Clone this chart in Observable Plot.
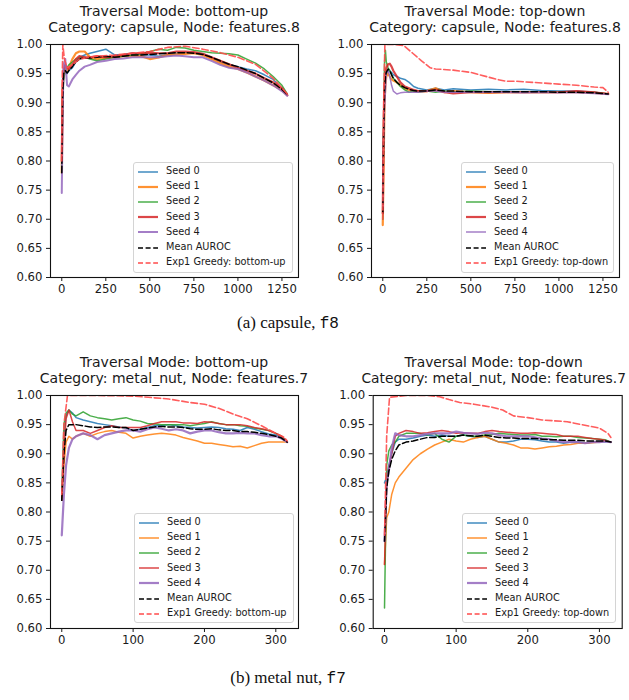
<!DOCTYPE html>
<html><head><meta charset="utf-8">
<script src="https://cdn.jsdelivr.net/npm/d3@7"></script>
<script src="https://cdn.jsdelivr.net/npm/@observablehq/plot@0.6"></script>
<style>
body{margin:0;background:#fff;}
#fig{position:relative;width:629px;height:700px;overflow:hidden;background:#fff;font-family:"DejaVu Sans",sans-serif;color:#1a1a1a;}
.ttl{position:absolute;white-space:nowrap;font-size:14px;line-height:15.5px;transform:translateX(-50%);text-align:center;color:#1a1a1a;}
.panel{position:absolute;}
.leg{position:absolute;border:1px solid #d4d4d4;border-radius:3px;background:rgba(255,255,255,0.85);box-sizing:border-box;}
.leg .lt{position:absolute;font-size:9.75px;line-height:12px;white-space:nowrap;color:#1a1a1a;}
.leg svg{position:absolute;}
.cap{position:absolute;font-family:"Liberation Serif","Times New Roman",serif;font-size:17px;line-height:20px;white-space:nowrap;transform:translateX(-50%);color:#111;}
.cap code{font-family:"Liberation Mono","DejaVu Sans Mono",monospace;font-size:16px;}
</style></head><body><div id="fig"></div><script>
// ---------- tick labels ----------
const yTicks = [0.60, 0.65, 0.70, 0.75, 0.80, 0.85, 0.90, 0.95, 1.00];
const capsuleTicks = [0, 250, 500, 750, 1000, 1250];
const metalTicks = [0, 100, 200, 300];
const seriesNames = ["Seed 0", "Seed 1", "Seed 2", "Seed 3", "Seed 4", "Mean AUROC"];

// ---------- (a) capsule, bottom-up ----------
const capBU_x = [0, 5, 10, 20, 30, 40, 60, 80, 100, 130, 160, 200, 250, 300, 350, 400, 450, 500, 550, 600, 650, 700, 750, 800, 850, 900, 950, 1000, 1050, 1100, 1150, 1200, 1250, 1280];
const capBU_s0 = [0.80, 0.90, 0.94, 0.955, 0.95, 0.955, 0.96, 0.97, 0.978, 0.982, 0.985, 0.988, 0.992, 0.982, 0.983, 0.985, 0.982, 0.982, 0.98, 0.983, 0.985, 0.986, 0.985, 0.984, 0.978, 0.97, 0.965, 0.962, 0.958, 0.955, 0.948, 0.94, 0.925, 0.915];
const capBU_s1 = [0.78, 0.92, 0.95, 0.96, 0.955, 0.96, 0.975, 0.985, 0.988, 0.988, 0.978, 0.975, 0.978, 0.978, 0.98, 0.98, 0.98, 0.975, 0.978, 0.982, 0.983, 0.984, 0.985, 0.982, 0.975, 0.968, 0.962, 0.958, 0.952, 0.945, 0.938, 0.93, 0.922, 0.913];
const capBU_s2 = [0.79, 0.91, 0.94, 0.955, 0.96, 0.965, 0.97, 0.975, 0.978, 0.978, 0.975, 0.972, 0.975, 0.978, 0.98, 0.982, 0.984, 0.988, 0.992, 0.99, 0.995, 0.994, 0.99, 0.988, 0.986, 0.985, 0.984, 0.982, 0.975, 0.968, 0.958, 0.945, 0.93, 0.915];
const capBU_s3 = [0.80, 0.93, 0.955, 0.965, 0.96, 0.958, 0.965, 0.975, 0.98, 0.978, 0.978, 0.98, 0.978, 0.98, 0.982, 0.985, 0.985, 0.986, 0.985, 0.985, 0.988, 0.988, 0.987, 0.984, 0.978, 0.972, 0.966, 0.96, 0.955, 0.95, 0.942, 0.935, 0.925, 0.913];
const capBU_s4 = [0.745, 0.88, 0.965, 0.975, 0.93, 0.928, 0.94, 0.948, 0.955, 0.962, 0.965, 0.97, 0.972, 0.975, 0.976, 0.978, 0.978, 0.978, 0.978, 0.98, 0.981, 0.98, 0.978, 0.978, 0.972, 0.965, 0.96, 0.958, 0.952, 0.945, 0.938, 0.93, 0.92, 0.912];
const capBU_mean = [0.78, 0.91, 0.95, 0.955, 0.951, 0.955, 0.962, 0.97, 0.975, 0.977, 0.977, 0.978, 0.98, 0.978, 0.98, 0.982, 0.982, 0.983, 0.984, 0.985, 0.986, 0.986, 0.985, 0.983, 0.978, 0.972, 0.966, 0.962, 0.956, 0.95, 0.942, 0.934, 0.923, 0.914];
const capBU_gx = [0, 3, 6, 15, 30, 60, 100, 200, 300, 400, 500, 600, 700, 800, 900, 1000, 1100, 1200, 1280];
const capBU_gy = [0.80, 0.95, 1.0, 0.975, 0.96, 0.965, 0.975, 0.98, 0.982, 0.985, 0.988, 0.995, 0.997, 0.992, 0.986, 0.978, 0.966, 0.942, 0.915];

// ---------- (a) capsule, top-down ----------
const capTD_x = [0, 5, 10, 15, 20, 30, 40, 50, 60, 80, 100, 125, 150, 175, 200, 250, 300, 350, 400, 500, 600, 700, 800, 900, 1000, 1100, 1200, 1280];
const capTD_s0 = [0.72, 0.85, 0.92, 0.94, 0.95, 0.955, 0.955, 0.952, 0.948, 0.945, 0.942, 0.94, 0.935, 0.928, 0.925, 0.922, 0.925, 0.922, 0.924, 0.922, 0.923, 0.922, 0.923, 0.921, 0.92, 0.92, 0.918, 0.915];
const capTD_s1 = [0.69, 0.80, 0.90, 0.93, 0.945, 0.95, 0.945, 0.94, 0.938, 0.935, 0.93, 0.925, 0.922, 0.92, 0.92, 0.92, 0.925, 0.918, 0.92, 0.918, 0.917, 0.918, 0.918, 0.918, 0.918, 0.918, 0.917, 0.915];
const capTD_s2 = [0.70, 0.88, 0.97, 0.99, 0.97, 0.96, 0.955, 0.948, 0.942, 0.935, 0.928, 0.922, 0.918, 0.92, 0.918, 0.92, 0.918, 0.92, 0.918, 0.92, 0.919, 0.918, 0.918, 0.919, 0.918, 0.918, 0.918, 0.915];
const capTD_s3 = [0.71, 0.86, 0.93, 0.95, 0.96, 0.966, 0.967, 0.962, 0.955, 0.945, 0.935, 0.928, 0.925, 0.922, 0.92, 0.92, 0.922, 0.918, 0.916, 0.918, 0.918, 0.918, 0.918, 0.918, 0.918, 0.92, 0.918, 0.915];
const capTD_s4 = [0.72, 0.85, 0.89, 0.92, 0.95, 0.955, 0.945, 0.93, 0.92, 0.915, 0.917, 0.918, 0.918, 0.918, 0.918, 0.92, 0.92, 0.918, 0.918, 0.918, 0.918, 0.918, 0.917, 0.918, 0.917, 0.917, 0.916, 0.914];
const capTD_mean = [0.71, 0.85, 0.92, 0.945, 0.952, 0.958, 0.955, 0.948, 0.942, 0.935, 0.93, 0.926, 0.923, 0.921, 0.92, 0.92, 0.922, 0.92, 0.92, 0.919, 0.919, 0.919, 0.919, 0.919, 0.918, 0.918, 0.917, 0.915];
const capTD_gx = [0, 5, 12, 60, 120, 170, 220, 270, 300, 400, 500, 550, 600, 650, 700, 750, 850, 1000, 1100, 1200, 1250, 1280];
const capTD_gy = [0.70, 0.90, 1.0, 1.0, 0.998, 0.985, 0.972, 0.96, 0.958, 0.956, 0.952, 0.948, 0.944, 0.94, 0.937, 0.937, 0.935, 0.932, 0.93, 0.927, 0.926, 0.918];

// ---------- (b) metal_nut, bottom-up ----------
const metBU_x = [0, 3, 6, 10, 15, 20, 30, 40, 50, 60, 70, 80, 90, 100, 110, 120, 130, 140, 150, 160, 170, 180, 190, 200, 210, 220, 230, 240, 250, 260, 270, 280, 290, 300, 308, 316];
const metBU_s0 = [0.82, 0.93, 0.965, 0.975, 0.97, 0.962, 0.958, 0.955, 0.952, 0.95, 0.948, 0.946, 0.944, 0.94, 0.942, 0.945, 0.948, 0.948, 0.95, 0.948, 0.946, 0.945, 0.944, 0.945, 0.946, 0.945, 0.943, 0.942, 0.94, 0.945, 0.942, 0.938, 0.934, 0.932, 0.928, 0.92];
const metBU_s1 = [0.82, 0.88, 0.92, 0.93, 0.925, 0.93, 0.935, 0.93, 0.935, 0.938, 0.94, 0.937, 0.935, 0.927, 0.93, 0.932, 0.934, 0.935, 0.934, 0.932, 0.928, 0.925, 0.922, 0.918, 0.918, 0.916, 0.914, 0.912, 0.913, 0.91, 0.914, 0.918, 0.92, 0.92, 0.92, 0.92];
const metBU_s2 = [0.83, 0.95, 0.97, 0.975, 0.968, 0.965, 0.972, 0.965, 0.962, 0.96, 0.958, 0.96, 0.962, 0.958, 0.956, 0.952, 0.951, 0.95, 0.95, 0.95, 0.95, 0.948, 0.95, 0.952, 0.955, 0.952, 0.95, 0.95, 0.948, 0.947, 0.944, 0.942, 0.94, 0.935, 0.93, 0.92];
const metBU_s3 = [0.82, 0.90, 0.96, 0.975, 0.955, 0.94, 0.94, 0.935, 0.94, 0.945, 0.948, 0.945, 0.945, 0.945, 0.945, 0.948, 0.952, 0.955, 0.955, 0.955, 0.953, 0.953, 0.952, 0.955, 0.954, 0.952, 0.95, 0.95, 0.95, 0.948, 0.945, 0.943, 0.94, 0.935, 0.93, 0.92];
const metBU_s4 = [0.76, 0.83, 0.88, 0.91, 0.925, 0.93, 0.935, 0.932, 0.925, 0.932, 0.935, 0.938, 0.94, 0.94, 0.938, 0.942, 0.945, 0.943, 0.94, 0.942, 0.94, 0.935, 0.938, 0.94, 0.94, 0.937, 0.935, 0.935, 0.936, 0.935, 0.935, 0.932, 0.93, 0.93, 0.926, 0.92];
const metBU_mean = [0.82, 0.90, 0.94, 0.95, 0.95, 0.95, 0.948, 0.946, 0.945, 0.946, 0.946, 0.945, 0.945, 0.94, 0.942, 0.944, 0.946, 0.947, 0.946, 0.946, 0.945, 0.943, 0.942, 0.942, 0.943, 0.941, 0.94, 0.94, 0.938, 0.938, 0.937, 0.935, 0.933, 0.93, 0.927, 0.92];
const metBU_gx = [0, 3, 8, 20, 50, 100, 130, 150, 180, 200, 220, 245, 260, 280, 300, 312, 316];
const metBU_gy = [0.83, 0.95, 1.0, 1.0, 1.0, 0.999, 0.996, 0.994, 0.988, 0.985, 0.978, 0.966, 0.96, 0.948, 0.935, 0.928, 0.922];

// ---------- (b) metal_nut, top-down ----------
const metTD_x = [0, 3, 6, 10, 15, 20, 30, 40, 50, 60, 70, 80, 90, 100, 110, 120, 130, 140, 150, 160, 170, 180, 190, 200, 210, 220, 230, 240, 250, 260, 270, 280, 290, 300, 308, 316];
const metTD_s0 = [0.85, 0.86, 0.88, 0.90, 0.92, 0.925, 0.925, 0.927, 0.93, 0.932, 0.93, 0.932, 0.93, 0.93, 0.932, 0.93, 0.928, 0.93, 0.925, 0.92, 0.92, 0.922, 0.925, 0.925, 0.924, 0.922, 0.92, 0.92, 0.918, 0.92, 0.92, 0.918, 0.92, 0.92, 0.921, 0.92];
const metTD_s1 = [0.71, 0.79, 0.80, 0.83, 0.85, 0.86, 0.875, 0.89, 0.90, 0.908, 0.915, 0.92, 0.925, 0.922, 0.92, 0.925, 0.928, 0.93, 0.925, 0.92, 0.918, 0.915, 0.91, 0.91, 0.908, 0.91, 0.912, 0.913, 0.915, 0.916, 0.918, 0.918, 0.919, 0.92, 0.922, 0.92];
const metTD_s2 = [0.635, 0.88, 0.905, 0.915, 0.92, 0.93, 0.935, 0.935, 0.935, 0.932, 0.935, 0.925, 0.92, 0.93, 0.932, 0.93, 0.93, 0.932, 0.933, 0.935, 0.934, 0.933, 0.932, 0.932, 0.933, 0.93, 0.93, 0.929, 0.93, 0.93, 0.928, 0.927, 0.926, 0.925, 0.924, 0.92];
const metTD_s3 = [0.71, 0.85, 0.875, 0.90, 0.93, 0.935, 0.94, 0.938, 0.935, 0.936, 0.938, 0.94, 0.938, 0.935, 0.936, 0.935, 0.935, 0.938, 0.94, 0.938, 0.937, 0.936, 0.935, 0.935, 0.936, 0.935, 0.934, 0.933, 0.93, 0.93, 0.93, 0.928, 0.926, 0.925, 0.923, 0.92];
const metTD_s4 = [0.75, 0.85, 0.87, 0.91, 0.935, 0.932, 0.93, 0.93, 0.932, 0.934, 0.935, 0.935, 0.935, 0.938, 0.936, 0.935, 0.934, 0.936, 0.935, 0.932, 0.93, 0.93, 0.93, 0.93, 0.928, 0.926, 0.925, 0.922, 0.92, 0.92, 0.92, 0.918, 0.92, 0.92, 0.921, 0.92];
const metTD_mean = [0.75, 0.84, 0.87, 0.89, 0.905, 0.915, 0.92, 0.922, 0.925, 0.928, 0.928, 0.93, 0.93, 0.93, 0.932, 0.931, 0.93, 0.932, 0.93, 0.928, 0.927, 0.927, 0.926, 0.926, 0.926, 0.925, 0.924, 0.924, 0.923, 0.923, 0.923, 0.922, 0.922, 0.922, 0.922, 0.92];
const metTD_gx = [0, 3, 7, 30, 60, 77, 90, 105, 125, 150, 165, 180, 200, 220, 255, 275, 300, 312, 316];
const metTD_gy = [0.76, 0.93, 0.997, 1.0, 1.0, 0.998, 0.993, 0.988, 0.985, 0.98, 0.975, 0.965, 0.962, 0.958, 0.955, 0.95, 0.944, 0.935, 0.928];

// ---------- styling ----------
const seedColors = ["#1f77b4", "#ff7f0e", "#2ca02c", "#d62728", "#9467bd"];
const greedyColor = "#ff4b4b";

const panels = [
  {left: 0, top: 0, width: 310, height: 310, ml: 50, mr: 12, mt: 44, mb: 33,
   xDomain: [-64, 1344], xTicks: capsuleTicks, xs: capBU_x,
   seeds: [capBU_s0, capBU_s1, capBU_s2, capBU_s3, capBU_s4], mean: capBU_mean, gx: capBU_gx, gy: capBU_gy,
   sw: [1.5, 2.2, 1.5, 2.2, 2.0],
   t1: "Traversal Mode: bottom-up", t2: "Category: capsule, Node: features.8", tTop: 4, tShift: 0, tSize: 14,
   greedyLabel: "Exp1 Greedy: bottom-up", leg: {l: 133, t: 162, w: 160, h: 111}},
  {left: 310, top: 0, width: 319, height: 310, ml: 61, mr: 10, mt: 44, mb: 33,
   xDomain: [-64, 1344], xTicks: capsuleTicks, xs: capTD_x,
   seeds: [capTD_s0, capTD_s1, capTD_s2, capTD_s3, capTD_s4], mean: capTD_mean, gx: capTD_gx, gy: capTD_gy,
   sw: [1.5, 2.2, 1.5, 2.2, 1.5],
   t1: "Traversal Mode: top-down", t2: "Category: capsule, Node: features.8", tTop: 4, tShift: 0, tSize: 14,
   greedyLabel: "Exp1 Greedy: top-down", leg: {l: 461, t: 162, w: 153, h: 111}},
  {left: 0, top: 345, width: 310, height: 310, ml: 50, mr: 12, mt: 50, mb: 27,
   xDomain: [-15.8, 331.8], xTicks: metalTicks, xs: metBU_x,
   seeds: [metBU_s0, metBU_s1, metBU_s2, metBU_s3, metBU_s4], mean: metBU_mean, gx: metBU_gx, gy: metBU_gy,
   sw: [1.5, 1.5, 1.5, 1.5, 2.2],
   t1: "Traversal Mode: bottom-up", t2: "Category: metal_nut, Node: features.7", tTop: 355, tShift: 0, tSize: 14,
   greedyLabel: "Exp1 Greedy: bottom-up", leg: {l: 134, t: 513, w: 160, h: 110}},
  {left: 310, top: 345, width: 319, height: 310, ml: 62.7, mr: 7.3, mt: 50, mb: 27,
   xDomain: [-15.8, 331.8], xTicks: metalTicks, xs: metTD_x,
   seeds: [metTD_s0, metTD_s1, metTD_s2, metTD_s3, metTD_s4], mean: metTD_mean, gx: metTD_gx, gy: metTD_gy,
   sw: [1.5, 1.5, 1.5, 1.5, 2.2],
   t1: "Traversal Mode: top-down", t2: "Category: metal_nut, Node: features.7", tTop: 355, tShift: -3.5, tSize: 13.8,
   greedyLabel: "Exp1 Greedy: top-down", leg: {l: 462, t: 513, w: 154, h: 110}}
];

const fig = document.getElementById("fig");

for (const p of panels) {
  const marks = [];
  p.seeds.forEach((s, k) => {
    marks.push(Plot.line(s, {x: (d, i) => p.xs[i], y: d => d, stroke: seedColors[k], strokeWidth: p.sw[k], strokeOpacity: 0.85, clip: true}));
  });
  marks.push(Plot.line(p.mean, {x: (d, i) => p.xs[i], y: d => d, stroke: "#000", strokeWidth: 1.5, strokeDasharray: "6.5,2.8", clip: true}));
  marks.push(Plot.line(p.gy, {x: (d, i) => p.gx[i], y: d => d, stroke: greedyColor, strokeWidth: 1.6, strokeOpacity: 0.9, strokeDasharray: "6.5,2.8", clip: true}));
  marks.push(Plot.frame({stroke: "#111", strokeWidth: 1.1}));
  marks.push(Plot.axisY({ticks: yTicks, tickFormat: d => d.toFixed(2), tickSize: 4, tickPadding: 4, fontSize: 11.7, label: null}));
  marks.push(Plot.axisX({ticks: p.xTicks, tickFormat: d => String(d), tickSize: 4, tickPadding: 3, fontSize: 11.7, label: null}));

  const chart = Plot.plot({
    width: p.width, height: p.height,
    marginLeft: p.ml, marginRight: p.mr, marginTop: p.mt, marginBottom: p.mb,
    x: {domain: p.xDomain},
    y: {domain: [0.6, 1.0]},
    style: {fontFamily: "DejaVu Sans", fontSize: "11.7px", color: "#1a1a1a", background: "transparent", overflow: "visible"},
    marks
  });
  chart.classList.add("panel");
  chart.style.left = p.left + "px";
  chart.style.top = p.top + "px";
  fig.appendChild(chart);

  // titles
  const cx = p.left + p.ml + (p.width - p.ml - p.mr) / 2 + p.tShift;
  const t = document.createElement("div");
  t.className = "ttl";
  t.style.left = cx + "px";
  t.style.top = p.tTop + "px";
  t.style.fontSize = p.tSize + "px";
  t.innerHTML = p.t1 + "<br>" + p.t2;
  fig.appendChild(t);

  // legend
  const lg = document.createElement("div");
  lg.className = "leg";
  lg.style.left = p.leg.l + "px";
  lg.style.top = p.leg.t + "px";
  lg.style.width = p.leg.w + "px";
  lg.style.height = p.leg.h + "px";
  const labels = seriesNames.concat([p.greedyLabel]);
  labels.forEach((lab, k) => {
    const cy = 8.5 + k * 15.2;
    const svgNS = "http://www.w3.org/2000/svg";
    const sv = document.createElementNS(svgNS, "svg");
    sv.setAttribute("width", 24); sv.setAttribute("height", 8);
    sv.style.left = "3px"; sv.style.top = (cy - 4) + "px";
    const ln = document.createElementNS(svgNS, "line");
    ln.setAttribute("x1", 1); ln.setAttribute("x2", 21); ln.setAttribute("y1", 4); ln.setAttribute("y2", 4);
    if (k < 5) { ln.setAttribute("stroke", seedColors[k]); ln.setAttribute("stroke-width", p.sw[k]); ln.setAttribute("stroke-opacity", 0.85); }
    else if (k === 5) { ln.setAttribute("stroke", "#000"); ln.setAttribute("stroke-width", 1.5); ln.setAttribute("stroke-dasharray", "5,2.6"); }
    else { ln.setAttribute("stroke", greedyColor); ln.setAttribute("stroke-width", 1.6); ln.setAttribute("stroke-dasharray", "5,2.6"); }
    sv.appendChild(ln);
    lg.appendChild(sv);
    const tx = document.createElement("div");
    tx.className = "lt";
    tx.style.left = "32px";
    tx.style.top = (cy - 6.5) + "px";
    tx.textContent = lab;
    lg.appendChild(tx);
  });
  fig.appendChild(lg);
}

// captions
const captions = [
  {text: "(a) capsule, ", code: "f8", x: 288, y: 313},
  {text: "(b) metal nut, ", code: "f7", x: 288, y: 668}
];
for (const c of captions) {
  const d = document.createElement("div");
  d.className = "cap";
  d.style.left = c.x + "px";
  d.style.top = c.y + "px";
  d.innerHTML = c.text + "<code>" + c.code + "</code>";
  fig.appendChild(d);
}
</script></body></html>
